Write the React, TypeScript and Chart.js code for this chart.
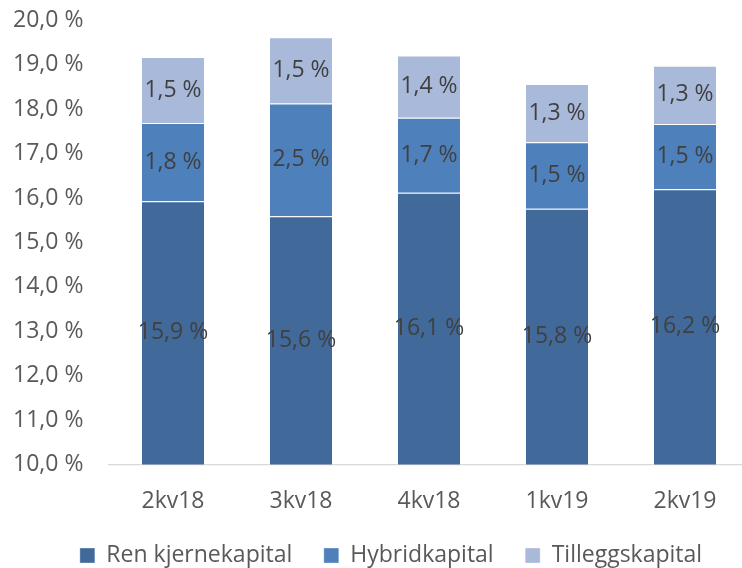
import React, { useEffect, useRef } from "react";
import { Chart, registerables } from "chart.js";

Chart.register(...registerables);

const categories = ["2kv18", "3kv18", "4kv18", "1kv19", "2kv19"];
const renKjernekapital = [15.93, 15.59, 16.12, 15.76, 16.2];
const hybridkapital = [1.76, 2.54, 1.69, 1.5, 1.47];
const tilleggskapital = [1.49, 1.49, 1.4, 1.31, 1.31];
const seriesNames = ["Ren kjernekapital", "Hybridkapital", "Tilleggskapital"];
const seriesColors = ["#41699A", "#4E80BC", "#A9B9DA"];
const yMin = 10;
const yMax = 20;
const yStep = 1;

const FONT = "'Open Sans', sans-serif";
const FONT_SIZE = 23;

const fmt = (v: number) => v.toFixed(1).replace(".", ",") + " %";

const W = 749;
const H = 577;
const PAD_LEFT = 33;
const PLOT_LEFT = 109;
const Y_LABEL_X = 13;

const labelPlugin = {
  id: "segLabels",
  afterDatasetsDraw(chart: any) {
    const { ctx, chartArea } = chart;
    ctx.save();
    ctx.font = `${FONT_SIZE}px ${FONT}`;
    ctx.fillStyle = "#404040";
    ctx.textAlign = "center";
    ctx.textBaseline = "middle";
    chart.data.datasets.forEach((ds: any, di: number) => {
      const meta = chart.getDatasetMeta(di);
      meta.data.forEach((el: any, i: number) => {
        const p = el.getProps(["x", "y", "base"], true);
        const top = Math.max(Math.min(p.y, p.base), chartArea.top);
        const bottom = Math.min(Math.max(p.y, p.base), chartArea.bottom);
        if (bottom <= top) return;
        ctx.fillText(fmt(ds.data[i]), p.x, (top + bottom) / 2);
      });
    });
    ctx.restore();
  },
};

export default function App() {
  const ref = useRef<HTMLCanvasElement | null>(null);
  useEffect(() => {
    if (!ref.current) return;
    const seriesData = [renKjernekapital, hybridkapital, tilleggskapital];
    const chart = new Chart(ref.current, {
      type: "bar",
      data: {
        labels: categories,
        datasets: seriesNames.map((name, i) => ({
          label: name,
          data: seriesData[i],
          backgroundColor: seriesColors[i],
          borderColor: "rgba(255,255,255,0.35)",
          borderWidth: 1,
          barPercentage: 0.5,
          categoryPercentage: 1,
        })),
      },
      options: {
        animation: false,
        responsive: false,
        devicePixelRatio: 1,
        layout: { padding: { left: PAD_LEFT, right: 0, top: 20.5, bottom: 0 } },
        plugins: {
          tooltip: { enabled: false },
          legend: {
            position: "bottom",
            labels: {
              boxWidth: 15,
              boxHeight: 15,
              padding: 31.5,
              color: "#595959",
              font: { family: FONT, size: FONT_SIZE },
            },
          },
        },
        scales: {
          x: {
            stacked: true,
            grid: { display: false, drawTicks: false },
            border: { display: true, color: "#D9D9D9", width: 1.3 },
            ticks: { color: "#595959", font: { family: FONT, size: FONT_SIZE }, padding: 23 },
            afterFit: (s: any) => {
              s.height = 48;
            },
          },
          y: {
            stacked: true,
            min: yMin,
            max: yMax,
            grid: { display: false, drawTicks: false },
            border: { display: false },
            ticks: {
              stepSize: yStep,
              mirror: true,
              crossAlign: "near",
              color: "#595959",
              font: { family: FONT, size: FONT_SIZE },
              padding: Y_LABEL_X - PLOT_LEFT,
              callback: (v: any) => fmt(Number(v)),
            },
            afterFit: (s: any) => {
              s.width = PLOT_LEFT - PAD_LEFT;
            },
          },
        },
      },
      plugins: [labelPlugin],
    });
    return () => chart.destroy();
  }, []);
  return (
    <div style={{ position: "fixed", left: 0, top: 0, width: 742, height: 568, overflow: "hidden", background: "#fff" }}>
      <canvas ref={ref} width={W} height={H} style={{ width: W, height: H, display: "block" }} />
    </div>
  );
}
